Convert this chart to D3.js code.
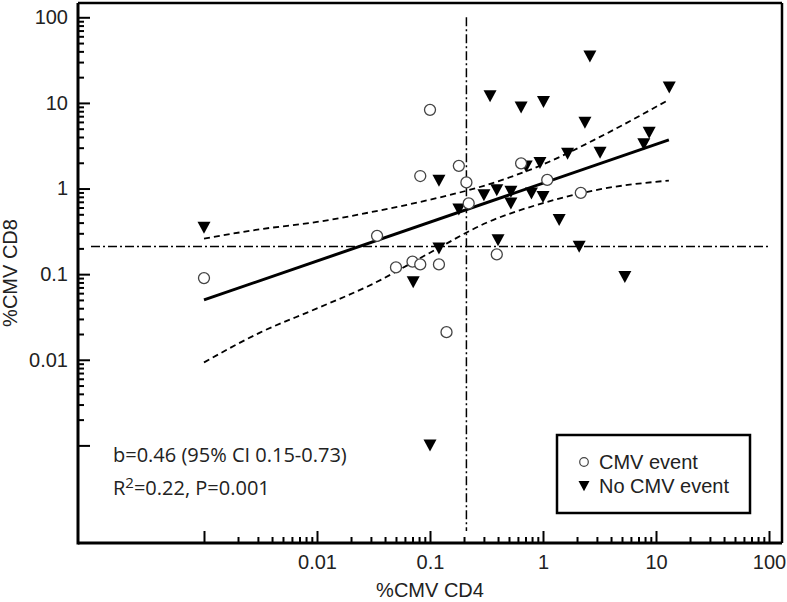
<!DOCTYPE html>
<html><head><meta charset="utf-8">
<script src="https://cdn.jsdelivr.net/npm/d3@7"></script>
<style>body{margin:0;background:#fff}svg{display:block}</style>
</head><body>
<svg id="chart" width="787" height="602"></svg>
<script>
// ---- data ----
const cmvX = [0.001, 0.034, 0.05, 0.07, 0.082, 0.12, 0.14, 0.1, 0.18, 0.082, 0.21, 0.22, 0.39, 0.64, 1.09, 2.16];
const cmvY = [0.09, 0.28, 0.12, 0.14, 0.13, 0.13, 0.021, 8.3, 1.84, 1.40, 1.18, 0.67, 0.17, 1.97, 1.26, 0.89];
const noX = [0.001, 0.1, 0.071, 0.12, 0.12, 0.18, 0.34, 0.30, 0.39, 0.40, 0.52, 0.52, 0.64, 0.71, 0.79, 0.94, 1.01, 1.0, 1.39, 1.65, 2.09, 2.35, 2.6, 3.2, 5.3, 7.8, 8.7, 13.1];
const noY = [0.35, 0.001, 0.081, 0.20, 1.24, 0.57, 12, 0.84, 0.96, 0.25, 0.92, 0.67, 8.9, 1.82, 0.88, 2.0, 10.3, 0.80, 0.43, 2.56, 0.21, 5.9, 35, 2.63, 0.093, 3.3, 4.5, 15.2];
const fitX = [0.001, 13];
const fitY = [0.05, 3.7];
const ciX = [0.001, 0.00316, 0.01, 0.0316, 0.1, 0.316, 1, 3.16, 13];
const ciUpper = [0.26, 0.335, 0.407, 0.537, 0.741, 1.10, 1.91, 3.98, 10.9];
const ciLower = [0.0093, 0.0209, 0.0398, 0.0776, 0.178, 0.398, 0.676, 0.977, 1.24];
const thresholdX = 0.21;
const thresholdY = 0.21;
const lineSpan = [0.0001, 100];
const majorTicks = [0.001, 0.01, 0.1, 1, 10, 100];
const tickLabels = ["", "0.01", "0.1", "1", "10", "100"];
const legendLabels = ["CMV event", "No CMV event"];
const xTitle = "%CMV CD4";
const yTitle = "%CMV CD8";

// ---- layout ----
const L = 78, R = 782, T = 3, B = 543;
const svg = d3.select("#chart");
const x = d3.scaleLog().domain([Math.pow(10, -4.115), Math.pow(10, 2.115)]).range([L, R]);
const y = d3.scaleLog().domain([Math.pow(10, -4.14), Math.pow(10, 2.167)]).range([B, T]);

const minorTicks = [];
majorTicks.slice(0, -1).forEach(m => { for (let k = 2; k <= 9; k++) minorTicks.push(m * k); });
const labelOf = d => tickLabels[majorTicks.indexOf(d)] || "";
const axisFont = "'Liberation Sans', Arial, sans-serif";

// frame (top, right)
svg.append("line").attr("x1", L).attr("x2", R).attr("y1", T).attr("y2", T).attr("stroke", "#000").attr("stroke-width", 2.5);
svg.append("line").attr("x1", R).attr("x2", R).attr("y1", T).attr("y2", B).attr("stroke", "#000").attr("stroke-width", 2.5);

function styleAxis(g) {
  g.select(".domain").attr("stroke", "#000").attr("stroke-width", 3);
  g.selectAll(".tick line").attr("stroke", "#000").attr("stroke-width", 2);
  g.selectAll("text").attr("font-family", axisFont).attr("font-size", 20).attr("fill", "#222");
}
// x axis
const gx = svg.append("g").attr("transform", `translate(0,${B})`)
  .call(d3.axisBottom(x).tickValues(majorTicks).tickFormat(labelOf).tickSizeInner(-12).tickSizeOuter(0).tickPadding(12));
styleAxis(gx);
gx.select(".domain").attr("d", `M${L},0H${R}`);
const gxm = svg.append("g").attr("transform", `translate(0,${B})`)
  .call(d3.axisBottom(x).tickValues(minorTicks).tickFormat("").tickSizeInner(-6).tickSizeOuter(0));
styleAxis(gxm); gxm.select(".domain").remove();
// y axis
const gy = svg.append("g").attr("transform", `translate(${L},0)`)
  .call(d3.axisLeft(y).tickValues(majorTicks).tickFormat(labelOf).tickSizeInner(-12).tickSizeOuter(0).tickPadding(10));
styleAxis(gy);
gy.select(".domain").attr("d", `M0,${T}V${B + 1.5}`);
const gym = svg.append("g").attr("transform", `translate(${L},0)`)
  .call(d3.axisLeft(y).tickValues(minorTicks).tickFormat("").tickSizeInner(-6).tickSizeOuter(0));
styleAxis(gym); gym.select(".domain").remove();

// axis titles
svg.append("text").attr("x", (L + R) / 2).attr("y", 597).attr("text-anchor", "middle")
  .attr("font-family", axisFont).attr("font-size", 20).attr("fill", "#222").text(xTitle);
svg.append("text").attr("transform", `translate(17,${(T + B) / 2}) rotate(-90)`).attr("text-anchor", "middle")
  .attr("font-family", axisFont).attr("font-size", 20).attr("fill", "#222").text(yTitle);

// threshold lines
svg.append("line").attr("x1", x(thresholdX)).attr("x2", x(thresholdX)).attr("y1", y(lineSpan[1])).attr("y2", y(lineSpan[0]))
  .attr("stroke", "#000").attr("stroke-width", 1.5).attr("stroke-dasharray", "9,3,2,3");
svg.append("line").attr("x1", x(lineSpan[0])).attr("x2", x(lineSpan[1])).attr("y1", y(thresholdY)).attr("y2", y(thresholdY))
  .attr("stroke", "#000").attr("stroke-width", 1.5).attr("stroke-dasharray", "9,3,2,3");

// CI + fit
const line = d3.line().x(d => x(d[0])).y(d => y(d[1])).curve(d3.curveMonotoneX);
svg.append("path").attr("d", line(ciX.map((v, i) => [v, ciUpper[i]]))).attr("fill", "none")
  .attr("stroke", "#000").attr("stroke-width", 1.8).attr("stroke-dasharray", "6,4");
svg.append("path").attr("d", line(ciX.map((v, i) => [v, ciLower[i]]))).attr("fill", "none")
  .attr("stroke", "#000").attr("stroke-width", 1.8).attr("stroke-dasharray", "6,4");
svg.append("path").attr("d", d3.line().x(d => x(d[0])).y(d => y(d[1]))(fitX.map((v, i) => [v, fitY[i]])))
  .attr("fill", "none").attr("stroke", "#000").attr("stroke-width", 3);

// markers
const tri = (s) => `M${-s},${-s * 0.9}L${s},${-s * 0.9}L0,${s * 0.95}Z`;
svg.append("g").selectAll("path").data(noX.map((v, i) => [v, noY[i]])).join("path")
  .attr("transform", d => `translate(${x(d[0])},${y(d[1])})`).attr("d", tri(6.5)).attr("fill", "#000");
svg.append("g").selectAll("circle").data(cmvX.map((v, i) => [v, cmvY[i]])).join("circle")
  .attr("cx", d => x(d[0])).attr("cy", d => y(d[1])).attr("r", 5.5)
  .attr("fill", "#fff").attr("stroke", "#444").attr("stroke-width", 1.3);

// stats text
const st = svg.append("g").attr("font-family", "'Open Sans', sans-serif").attr("font-size", 20).attr("fill", "#222");
st.append("text").attr("x", 113).attr("y", 462).text("b=0.46 (95% CI 0.15-0.73)");
const t2 = st.append("text").attr("x", 113).attr("y", 495);
t2.append("tspan").text("R");
t2.append("tspan").attr("dy", -7).attr("font-size", 15).text("2");
t2.append("tspan").attr("dy", 7).text("=0.22, P=0.001");

// legend
const lg = svg.append("g");
lg.append("rect").attr("x", 557).attr("y", 435).attr("width", 193).attr("height", 78)
  .attr("fill", "#fff").attr("stroke", "#000").attr("stroke-width", 2.5);
lg.append("circle").attr("cx", 584).attr("cy", 462).attr("r", 4.3).attr("fill", "#fff").attr("stroke", "#444").attr("stroke-width", 1.2);
lg.append("path").attr("transform", "translate(584,486)").attr("d", tri(5.5)).attr("fill", "#000");
lg.selectAll("text").data(legendLabels).join("text")
  .attr("x", 599).attr("y", (d, i) => 469 + i * 24)
  .attr("font-family", axisFont).attr("font-size", 20).attr("fill", "#222").text(d => d);
</script>
</body></html>
